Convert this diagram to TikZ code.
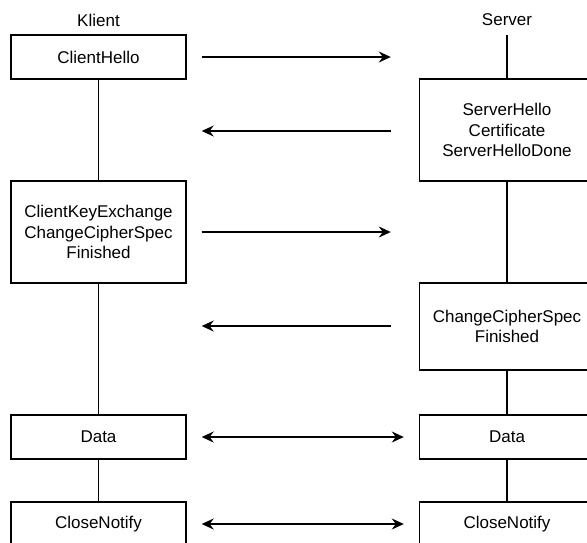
\documentclass[tikz,border=0pt]{standalone}
\usepackage{fontspec}
\setmainfont{Liberation Sans}
\usetikzlibrary{arrows.meta}
\tikzset{
  box/.style={draw, line width=1.4pt, minimum width=175pt, minimum height=#1, align=center, inner sep=2pt},
  box/.default=44pt,
  msg/.style={-{Stealth[length=12pt, width=11pt, inset=4pt]}, line width=1.4pt},
  msgboth/.style={{Stealth[length=12pt, width=11pt, inset=4pt]}-{Stealth[length=12pt, width=11pt, inset=4pt]}, line width=1.4pt},
}

\begin{document}
\begin{tikzpicture}[x=1pt, y=-1pt, font=\fontsize{17}{20.5}\selectfont,
  life/.style={line width=1.4pt}]
  \useasboundingbox (0,0) rectangle (587,542);
  \clip (0,0) rectangle (587,542);
  % parties
  \node (klient) at (98.5,20) {Klient};
  \node (server) at (507,20) {Server};
  \coordinate (stop) at (507,35);
  % client side
  \node[box] (chello) at (98.5,57) {ClientHello};
  \node[box=102pt] (ckex) at (98.5,232) {ClientKeyExchange\\ChangeCipherSpec\\Finished};
  \node[box] (cdata) at (98.5,437) {Data};
  \node[box] (cclose) at (98.5,524) {CloseNotify};
  % server side
  \node[box=102pt] (shello) at (507,130) {ServerHello\\Certificate\\ServerHelloDone};
  \node[box=87pt] (sccs) at (507,326.5) {ChangeCipherSpec\\Finished};
  \node[box] (sdata) at (507,437) {Data};
  \node[box] (sclose) at (507,524) {CloseNotify};
  % lifelines
  \draw[life] (chello) -- (ckex);
  \draw[life] (ckex) -- (cdata);
  \draw[life] (cdata) -- (cclose);
  \draw[life] (stop) -- (shello);
  \draw[life] (shello) -- (sccs);
  \draw[life] (sccs) -- (sdata);
  \draw[life] (sdata) -- (sclose);
  % messages
  \draw[msg, shorten <=15pt, shorten >=28pt] (chello.east) -- (chello.east -| shello.west);
  \draw[msg, shorten <=28pt, shorten >=15pt] ([yshift=-1pt]shello.west) -- ([yshift=-1pt]shello.west -| chello.east);
  \draw[msg, shorten <=15pt, shorten >=28pt] (ckex.east) -- (ckex.east -| sccs.west);
  \draw[msg, shorten <=28pt, shorten >=15pt] ([yshift=0.5pt]sccs.west) -- ([yshift=0.5pt]sccs.west -| ckex.east);
  \draw[msgboth, shorten <=15pt, shorten >=15pt] (cdata) -- (sdata);
  \draw[msgboth, shorten <=15pt, shorten >=15pt] (cclose) -- (sclose);
\end{tikzpicture}
\end{document}
